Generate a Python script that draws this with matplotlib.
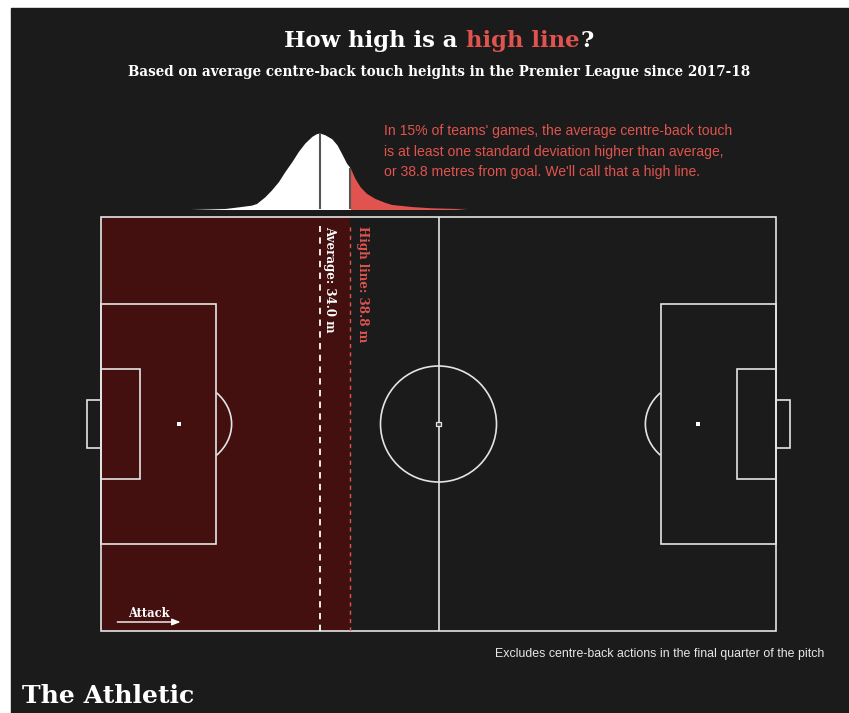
import matplotlib
matplotlib.use("Agg")
import matplotlib.pyplot as plt
import numpy as np
from matplotlib import font_manager
from matplotlib.patches import Rectangle, Ellipse, Arc

# values
AVG_M = 34.0      # average centre-back touch height (m from goal)
HIGH_M = 38.8     # one standard deviation above average
DENS_X = [14.0, 19.3, 21.4, 23.4, 24.2, 25.5, 26.5, 27.6, 28.6, 29.7, 30.7,
          31.7, 32.8, 33.5, 34.0, 34.8, 35.9, 36.7, 37.4, 38.2, 38.8, 39.5,
          40.3, 41.3, 42.6, 44.2, 45.2, 48.3, 51.4, 55.1, 56.9]
DENS_Y = [0.0, 0.013, 0.035, 0.057, 0.079, 0.167, 0.254, 0.364, 0.496, 0.627,
          0.759, 0.868, 0.956, 0.991, 1.0, 0.978, 0.925, 0.846, 0.737, 0.605,
          0.539, 0.408, 0.298, 0.211, 0.145, 0.092, 0.066, 0.039, 0.022,
          0.013, 0.0]

TITLE_PARTS = ["How high is a", "high line", "?"]
SUBTITLE = "Based on average centre-back touch heights in the Premier League since 2017-18"
NOTE = ("In 15% of teams' games, the average centre-back touch\n"
        "is at least one standard deviation higher than average,\n"
        "or 38.8 metres from goal. We'll call that a high line.")
FOOTNOTE = "Excludes centre-back actions in the final quarter of the pitch"

BG = "#1b1b1b"
RED = "#e0534e"
DARK_RED = "#440f0f"
LINE = "#e4e4e4"
_names = {f.name for f in font_manager.fontManager.ttflist}
SLAB = ["DejaVu Serif Condensed"] if "DejaVu Serif Condensed" in _names else ["DejaVu Serif"]
SANS = ["Liberation Sans", "DejaVu Sans"]
NARROW = ["Liberation Sans Narrow"] if "Liberation Sans Narrow" in _names else SANS

W, H = 849, 713
fig = plt.figure(figsize=(W / 100, H / 100), dpi=100, facecolor="white")
fig.patches.append(Rectangle((11 / W, 0), 1 - 11 / W, 1 - 8 / H,
                             transform=fig.transFigure, color=BG, zorder=-5))
renderer = fig.canvas.get_renderer()


def px_axes(x0, y0, x1, y1):
    ax = fig.add_axes([x0 / W, 1 - y1 / H, (x1 - x0) / W, (y1 - y0) / H])
    ax.set_facecolor("none")
    ax.axis("off")
    return ax


def fit(t, target, vertical=False):
    bb = t.get_window_extent(renderer)
    cur = bb.height if vertical else bb.width
    t.set_fontsize(t.get_fontsize() * target / cur)


# ---- pitch ----
PL, PW = 105.0, 68.0
ax = px_axes(101, 217, 776, 631)
ax.set_xlim(0, PL)
ax.set_ylim(0, PW)
sx = 675 / PL   # px per metre along the pitch
sy = 414 / PW   # px per metre across

ax.add_patch(Rectangle((0, 0), HIGH_M, PW, color=DARK_RED, zorder=0, lw=0))

kw = dict(fill=False, ec=LINE, lw=1.2, zorder=2, clip_on=False)
ax.add_patch(Rectangle((0, 0), PL, PW, **kw))
ax.plot([PL / 2, PL / 2], [0, PW], color=LINE, lw=1.2, zorder=2)
for side in (0, 1):
    box_len, six_len, spot = 0.17 * PL, 0.058 * PL, 0.115 * PL
    x_box = 0 if side == 0 else PL - box_len
    x_six = 0 if side == 0 else PL - six_len
    ax.add_patch(Rectangle((x_box, 0.211 * PW), box_len, 0.578 * PW, **kw))
    ax.add_patch(Rectangle((x_six, 0.368 * PW), six_len, 0.264 * PW, **kw))
    x_goal = -2.2 if side == 0 else PL
    ax.add_patch(Rectangle((x_goal, 30.0), 2.2, 8.0, **kw))
    x_spot = spot if side == 0 else PL - spot
    ax.plot(x_spot, PW / 2, "s", ms=2.4, color="white", mew=0, zorder=3)
    arc_w, arc_h = 2 * 53 / sx, 2 * 44.7 / sy
    t1, t2 = (-41, 41) if side == 0 else (139, 221)
    ax.add_patch(Arc((x_spot, PW / 2), arc_w, arc_h, theta1=t1, theta2=t2,
                     ec=LINE, lw=1.2, zorder=2))

rc = 58 / sx
ax.add_patch(Ellipse((PL / 2, PW / 2), 2 * rc, 2 * rc * sx / sy, **kw))
ax.add_patch(Rectangle((PL / 2 - 0.4, PW / 2 - 0.35), 0.8, 0.7,
                       fc="#444444", ec=LINE, lw=0.9, zorder=3))

ax.plot([AVG_M, AVG_M], [0, PW - 1.4], color="white", lw=1.3,
        ls=(0, (3.5, 3)), zorder=3)
ax.plot([HIGH_M, HIGH_M], [0, PW - 1.4], color=RED, lw=1.0,
        ls=(0, (3, 3)), zorder=3)
t_avg = ax.text(AVG_M + 10 / sx, PW - 9 / sy, f"Average: {AVG_M:.1f} m",
                rotation=-90, ha="center", va="top", color="white",
                fontsize=9, fontweight="bold", family=SLAB, zorder=4)
t_high = ax.text(HIGH_M + 12 / sx, PW - 9 / sy, f"High line: {HIGH_M:.1f} m",
                 rotation=-90, ha="center", va="top", color=RED,
                 fontsize=9, fontweight="bold", family=SLAB, zorder=4)
fit(t_avg, 106, vertical=True)
fit(t_high, 116, vertical=True)

t_att = ax.text(7.4, 11 / sy, "Attack", ha="center", va="bottom",
                color="white", fontsize=8, fontweight="bold", family=SLAB,
                zorder=4)
fit(t_att, 42)
ax.annotate("", xy=(12.8, 9 / sy), xytext=(2.1, 9 / sy),
            arrowprops=dict(arrowstyle="-|>,head_length=0.5,head_width=0.2",
                            color="white", lw=1.0), zorder=4)

# ---- distribution above the pitch ----
dx = np.array(DENS_X)
dy = np.array(DENS_Y)
dax = px_axes(101, 133, 776, 209.5)
dax.set_xlim(0, PL)
dax.set_ylim(0, 1.0)
dax.plot([dx[0], dx[-1]], [0, 0], color="#bdbdbd", lw=0.8, zorder=1)
dax.fill_between(dx, 0, dy, where=dx <= HIGH_M, color="white", lw=0, zorder=2)
dax.fill_between(dx, 0, dy, where=dx >= HIGH_M, color=RED, lw=0, zorder=2)
for v in (AVG_M, HIGH_M):
    dax.plot([v, v], [0, np.interp(v, dx, dy)], color="#555555", lw=1.5,
             zorder=3, solid_capstyle="butt")

t_note = fig.text(384 / W, 1 - 124 / H, NOTE, ha="left", va="top", color=RED,
                  fontsize=9.8, linespacing=1.6, family=SANS)
fit(t_note, 348)

# ---- title ----
tkw = dict(fontsize=17, fontweight="bold", family=SLAB, va="baseline")
colors = ["white", RED, "white"]
texts = [fig.text(0, 0, s, color=c, **tkw) for s, c in zip(TITLE_PARTS, colors)]
probe1 = fig.text(0, 0, "x x", **tkw)
probe2 = fig.text(0, 0, "xx", **tkw)
space = (probe1.get_window_extent(renderer).width
         - probe2.get_window_extent(renderer).width)
probe1.remove()
probe2.remove()
widths = [t.get_window_extent(renderer).width for t in texts]
total = sum(widths) + space
scale = 310 / total
for t in texts:
    t.set_fontsize(17 * scale)
widths = [w * scale for w in widths]
space *= scale
x = 439 - 310 / 2
for t, w, g in zip(texts, widths, [space, 0, 0]):
    t.set_position((x / W, 1 - 47 / H))
    x += w + g

t_sub = fig.text(439 / W, 1 - 72 / H, SUBTITLE, ha="center", va="center",
                 color="white", fontsize=9.7, fontweight="bold", family=SLAB)
fit(t_sub, 624)

t_foot = fig.text(824 / W, 1 - 654 / H, FOOTNOTE, ha="right", va="center",
                  color="#e6e6e6", fontsize=9.0, family=NARROW)
fit(t_foot, 331)
t_logo = fig.text(22 / W, 1 - 696 / H, "The Athletic", ha="left", va="center",
                  color="white", fontsize=18, fontweight="bold", family=SLAB)
fit(t_logo, 173)

fig.savefig("out.png", dpi=100, facecolor=fig.get_facecolor())
